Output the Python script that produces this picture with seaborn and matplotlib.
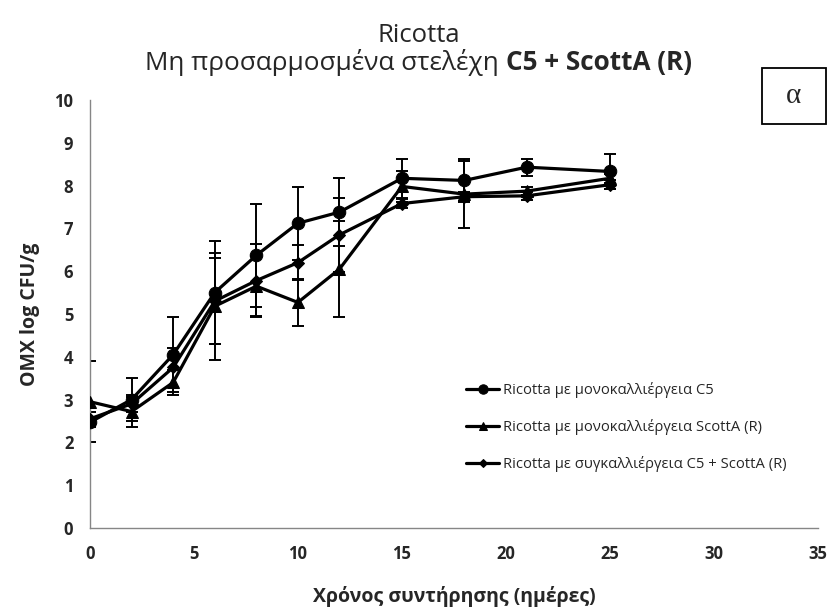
import matplotlib
matplotlib.use("Agg")
import matplotlib.pyplot as plt
from matplotlib.patches import Rectangle
import seaborn as sns
import pandas as pd

days = [0, 2, 4, 6, 8, 10, 12, 15, 18, 21, 25]
c5 = [2.47, 3.00, 4.05, 5.50, 6.37, 7.12, 7.38, 8.17, 8.12, 8.43, 8.33]
c5_sd = [0.10, 0.50, 0.87, 1.20, 1.20, 0.85, 0.80, 0.45, 0.50, 0.20, 0.40]
scotta = [2.95, 2.72, 3.40, 5.18, 5.65, 5.27, 6.05, 7.98, 7.80, 7.87, 8.17]
scotta_sd = [0.95, 0.35, 0.30, 1.25, 0.70, 0.55, 1.12, 0.36, 0.78, 0.10, 0.10]
co = [2.55, 2.90, 3.75, 5.30, 5.78, 6.20, 6.85, 7.58, 7.74, 7.76, 8.02]
co_sd = [0.15, 0.20, 0.45, 1.00, 0.85, 0.40, 0.87, 0.10, 0.10, 0.10, 0.10]

labels = ["Ricotta με μονοκαλλιέργεια C5",
          "Ricotta με μονοκαλλιέργεια ScottA (R)",
          "Ricotta με συγκαλλιέργεια C5 + ScottA (R)"]
xticks = [0, 5, 10, 15, 20, 25, 30, 35]
yticks = list(range(0, 11))

sns.set_theme(style="white")
FONT = ["Open Sans", "DejaVu Sans"]
plt.rcParams['font.family'] = FONT

fig = plt.figure(figsize=(8.37, 6.16), dpi=100)
ax = fig.add_axes([0.1075, 0.1429, 0.8695, 0.6948])

series = [(c5, c5_sd, "o", 9.0), (scotta, scotta_sd, "^", 8.5), (co, co_sd, "D", 6.0)]
for (vals, sd, mk, ms), lab in zip(series, labels):
    ax.errorbar(days, vals, yerr=sd, fmt="none", ecolor="black", elinewidth=1.4,
                capsize=4, capthick=1.4, zorder=2)
for (vals, sd, mk, ms), lab in zip(series, labels):
    df = pd.DataFrame({"x": days, "y": vals})
    sns.lineplot(data=df, x="x", y="y", ax=ax, color="black", linewidth=2.3,
                 marker=mk, markersize=ms, markeredgecolor="black",
                 markerfacecolor="black", label=lab, zorder=3)

ax.set_xlim(0, 35)
ax.set_ylim(0, 10)
ax.set_xticks(xticks)
ax.set_yticks(yticks)
for s in ["top", "right"]:
    ax.spines[s].set_visible(False)
for s in ["left", "bottom"]:
    ax.spines[s].set_color("#868686")
    ax.spines[s].set_linewidth(1.0)
ax.tick_params(axis="both", which="major", direction="out", length=5, width=1,
               color="#868686", labelsize=12, pad=7)
for t in ax.get_xticklabels() + ax.get_yticklabels():
    t.set_fontweight("bold")
ax.set_xlabel("Χρόνος συντήρησης (ημέρες)", fontsize=14, fontweight="bold", labelpad=17)
ax.set_ylabel("ΟΜΧ log CFU/g", fontsize=14, fontweight="bold", labelpad=10)

leg = ax.legend(loc="upper left", bbox_to_anchor=(0.508, 0.355), frameon=False,
                fontsize=10.6, handlelength=2.3, handletextpad=0.25, labelspacing=1.42,
                markerscale=0.75, borderaxespad=0)

# title
fig.text(0.5, 0.943, "Ricotta", ha="center", va="center", fontsize=18.5)
fig.canvas.draw()
r = fig.canvas.get_renderer()
t1 = fig.text(0, 0.899, "Μη προσαρμοσμένα στελέχη ", ha="left", va="center", fontsize=18.8)
t2 = fig.text(0, 0.899, "C5 + ScottA (R)", ha="left", va="center", fontsize=18.8, fontweight="bold")
w1 = t1.get_window_extent(r).width / fig.bbox.width
w2 = t2.get_window_extent(r).width / fig.bbox.width
x0 = 0.5 - (w1 + w2) / 2
t1.set_x(x0)
t2.set_x(x0 + w1)

# alpha box
W, H = 837.0, 616.0
bx0, bx1, by0, by1 = 762, 826, 68, 124
fig.patches.append(Rectangle((bx0 / W, 1 - by1 / H), (bx1 - bx0) / W, (by1 - by0) / H,
                             transform=fig.transFigure, facecolor="white",
                             edgecolor="black", linewidth=1.3))
fig.text((bx0 + bx1) / 2 / W, 1 - (by0 + by1) / 2 / H, "α", ha="center", va="center",
         fontsize=21, family=["Liberation Serif", "DejaVu Serif"])

fig.savefig("out.png", dpi=100)
